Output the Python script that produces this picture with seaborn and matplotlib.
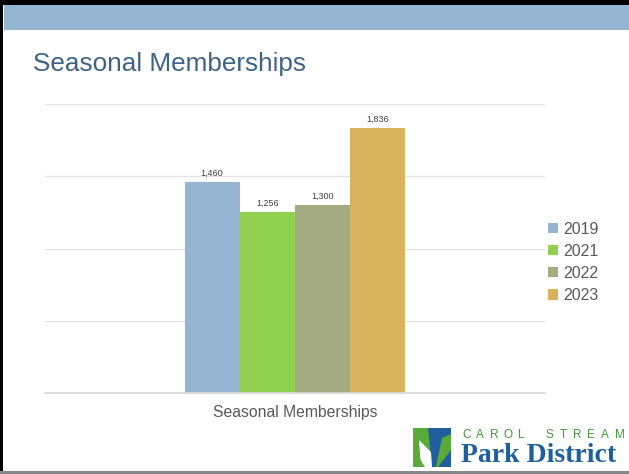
import matplotlib
matplotlib.use("Agg")
import matplotlib.pyplot as plt
import seaborn as sns
import pandas as pd
from matplotlib.patches import Rectangle, Polygon

categories = ["Seasonal Memberships"]
years = ["2019", "2021", "2022", "2023"]
values = [1460, 1256, 1300, 1836]
labels = ["1,460", "1,256", "1,300", "1,836"]
colors = ["#95b5d2", "#92d050", "#a5ab81", "#d8b25c"]

df = pd.DataFrame({"cat": categories * len(years), "year": years, "value": values})

sns.set_theme(style="white")
plt.rcParams['font.family'] = ['Liberation Sans', 'DejaVu Sans']

fig = plt.figure(figsize=(6.29, 4.74), dpi=100)
W, H = 629, 474

def fx(x): return x / W
def fy(y): return 1 - y / H

# frame and top band
fig.patches.append(Rectangle((0, 0), 1, 1, transform=fig.transFigure, facecolor="white",
                             edgecolor="none", zorder=-10))
fig.patches.append(Rectangle((fx(4), fy(30)), fx(629 - 4), 25 / H, transform=fig.transFigure,
                             facecolor="#95b5d1", edgecolor="none", zorder=1))
fig.patches.append(Rectangle((0, fy(5)), 1, 5 / H, transform=fig.transFigure,
                             facecolor="black", edgecolor="none", zorder=2))
fig.patches.append(Rectangle((0, 0), fx(3), 1, transform=fig.transFigure,
                             facecolor="black", edgecolor="none", zorder=2))
fig.patches.append(Rectangle((0, 0), 1, 3 / H, transform=fig.transFigure,
                             facecolor="#888888", edgecolor="none", zorder=2))

fig.text(fx(33), fy(64), "Seasonal Memberships", fontsize=18.8, color="#3f6386",
         ha="left", va="center")

ax = fig.add_axes([fx(45), fy(393), (545 - 45) / W, (393 - 104) / H])
sns.barplot(data=df, x="cat", y="value", hue="year", palette=colors, ax=ax,
            width=0.8, saturation=1, edgecolor="none", legend=True)
ax.set_xlim(-0.905, 0.905)
ax.set_ylim(0, 2000)
ax.set_yticks([0, 500, 1000, 1500, 2000])
ax.yaxis.grid(True, color="#e3e3e3", linewidth=1)
ax.set_axisbelow(True)
ax.set_yticklabels([])
ax.tick_params(left=False, bottom=False)
ax.set_ylabel("")
ax.set_xlabel("")
ax.set_xticks([0])
ax.set_xticklabels(categories, fontsize=11.3, color="#595959")
ax.tick_params(axis="x", pad=3)
for s in ["top", "right", "left"]:
    ax.spines[s].set_visible(False)
ax.spines["bottom"].set_color("#d9d9d9")

for cont, lab in zip(ax.containers, labels):
    ax.bar_label(cont, labels=[lab], fontsize=6.5, color="#404040", padding=3)

leg = ax.legend(loc="center left", bbox_to_anchor=(0.978, 0.452), frameon=False,
                fontsize=11.5, handlelength=0.6, handleheight=0.6, handletextpad=0.35,
                labelspacing=0.45, labelcolor="#595959")

# logo
blue = "#1f5f9e"
green = "#5aaa3a"
fig.patches.append(Rectangle((fx(413), fy(467)), 38 / W, 39 / H, transform=fig.transFigure,
                             facecolor=blue, edgecolor="none", zorder=3))
for pts, col in [
    ([(413, 428), (428, 428), (432, 467), (413, 467)], green),
    ([(419, 440), (431, 452), (432, 467), (421, 467)], "white"),
    ([(451, 428), (438, 428), (434, 467), (451, 467)], blue),
    ([(442, 438), (451, 434), (451, 450), (438, 467), (436, 467)], green),
    ([(413, 448), (425, 467), (413, 467)], green),
]:
    fig.patches.append(Polygon([(fx(a), fy(b)) for a, b in pts], closed=True,
                               transform=fig.transFigure, facecolor=col, edgecolor="none", zorder=4))
for i, ch in enumerate("CAROL STREAM"):
    if ch != " ":
        fig.text(fx(462 + i * 13.9), fy(435), ch, fontsize=8.5, color="#3f9a3a",
                 ha="left", va="center")
fig.text(fx(461), fy(456), "Park District", fontsize=20, color=blue,
         family=["Liberation Serif", "DejaVu Serif"], fontweight="bold", ha="left", va="center")

fig.savefig("out.png", dpi=100)
